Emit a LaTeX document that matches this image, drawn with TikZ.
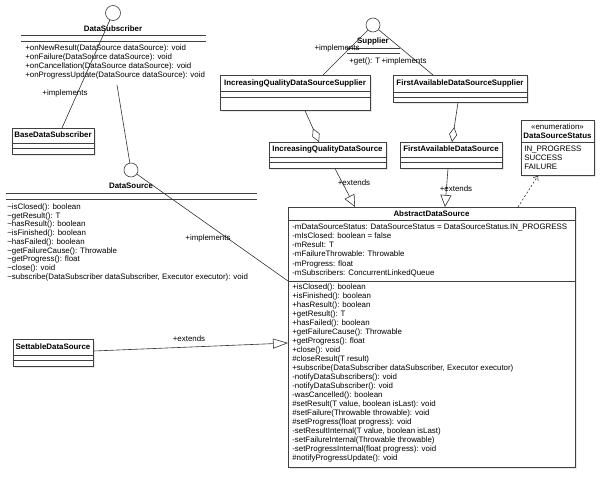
\documentclass[tikz,border=0pt]{standalone}
\usepackage{fontspec}
\setmainfont{Liberation Sans}
\usetikzlibrary{arrows.meta,shadows}
\begin{document}
\begin{tikzpicture}[x=1pt,y=-1pt,
  line width=0.6pt,
  every node/.style={font=\fontsize{7.9}{9}\selectfont},
  classbox/.style={draw=black!75, fill=white, anchor=north west, inner sep=0pt,
    drop shadow={shadow xshift=1.5pt, shadow yshift=-1.5pt, opacity=0.18}},
  title/.style={font=\fontsize{7.9}{9}\selectfont\bfseries, inner sep=0pt, text height=5.5pt, text depth=1.5pt},
  member/.style={anchor=west, inner sep=0pt, text height=5.5pt, text depth=1.5pt},
  lbl/.style={inner sep=0pt, text height=5.5pt, text depth=1.5pt},
  sep/.style={draw=black!75},
  iface/.style={circle, draw=black!75, fill=white, minimum size=15pt, inner sep=0pt},
  conn/.style={draw=black!80},
  aggr/.style={conn, -{Diamond[open, length=15pt, width=8pt]}},
  gen/.style={conn, -{Triangle[open, length=12pt, width=11pt]}},
  dep/.style={conn, dashed, dash pattern=on 2pt off 2pt, -{Straight Barb[length=4pt, width=6pt]}}
]
\useasboundingbox[fill=white] (0,0) rectangle (600,477);

% ---------- DataSubscriber (interface) ----------
\node[iface] (dsubc) at (113,13) {};
\node[title] (dsub) at (113,29) {DataSubscriber};
\draw[sep] (21,35) -- (206,35) (21,41) -- (206,41);
\foreach \t [count=\i] in {{+onNewResult(DataSource dataSource): void},
  {+onFailure(DataSource dataSource): void},
  {+onCancellation(DataSource dataSource): void},
  {+onProgressUpdate(DataSource dataSource): void}}
  \node[member] (dsubm\i) at (25,39+9*\i) {\t};
\coordinate (dsubb) at (117,85);

% ---------- BaseDataSubscriber ----------
\node[classbox, minimum width=82pt, minimum height=26pt] (bds) at (12,128) {};
\node[title] (bdst) at (53,135) {BaseDataSubscriber};
\draw[sep] (12,143) -- (94,143) (12,148) -- (94,148);

% ---------- Supplier (interface) ----------
\node[iface, minimum size=14pt] (supc) at (373,25) {};
\node[title] (sup) at (373,41) {Supplier};
\draw[sep] (347,48) -- (400,48) (347,53) -- (400,53);
\node[member] (supm1) at (349,61) {+get(): T};

% ---------- IncreasingQualityDataSourceSupplier ----------
\node[classbox, minimum width=150pt, minimum height=35pt] (iqdss) at (220,75) {};
\node[title] (iqdsst) at (295,83) {IncreasingQualityDataSourceSupplier};
\draw[sep] (220,91) -- (370,91) (220,97) -- (370,97);

% ---------- FirstAvailableDataSourceSupplier ----------
\node[classbox, minimum width=134pt, minimum height=27pt] (fadss) at (393,75) {};
\node[title] (fadsst) at (460,83) {FirstAvailableDataSourceSupplier};
\draw[sep] (393,92) -- (527,92) (393,97) -- (527,97);

% ---------- IncreasingQualityDataSource ----------
\node[classbox, minimum width=117pt, minimum height=26pt] (iqds) at (269,142) {};
\node[title] (iqdst) at (327.5,149) {IncreasingQualityDataSource};
\draw[sep] (269,157) -- (386,157) (269,162) -- (386,162);

% ---------- FirstAvailableDataSource ----------
\node[classbox, minimum width=102pt, minimum height=26pt] (fads) at (400,142) {};
\node[title] (fadst) at (451,149) {FirstAvailableDataSource};
\draw[sep] (400,157) -- (502,157) (400,162) -- (502,162);

% ---------- DataSourceStatus ----------
\node[classbox, minimum width=73pt, minimum height=55pt] (dss) at (521,120) {};
\node[lbl] (dsss) at (557.5,127) {«enumeration»};
\node[title] (dsst) at (557.5,136) {DataSourceStatus};
\draw[sep] (521,142.5) -- (594,142.5);
\foreach \t [count=\i] in {IN\_PROGRESS, SUCCESS, FAILURE}
  \node[member] (dssm\i) at (524,140+9*\i) {\t};

% ---------- DataSource (interface) ----------
\node[iface, minimum size=14pt] (dsc) at (131,170) {};
\node[title] (ds) at (131,186) {DataSource};
\draw[sep] (6,193) -- (257,193) (6,199) -- (257,199);
\foreach \t [count=\i] in {{\textasciitilde isClosed(): boolean},
  {\textasciitilde getResult(): T},
  {\textasciitilde hasResult(): boolean},
  {\textasciitilde isFinished(): boolean},
  {\textasciitilde hasFailed(): boolean},
  {\textasciitilde getFailureCause(): Throwable},
  {\textasciitilde getProgress(): float},
  {\textasciitilde close(): void},
  {\textasciitilde subscribe(DataSubscriber dataSubscriber, Executor executor): void}}
  \node[member] (dsm\i) at (7,198.8+8.7*\i) {\t};

% ---------- AbstractDataSource ----------
\node[classbox, minimum width=287pt, minimum height=260pt] (ads) at (288,207) {};
\node[title] (adst) at (431.5,214) {AbstractDataSource};
\draw[sep] (288,220.5) -- (575,220.5) (288,281) -- (575,281);
\foreach \t [count=\i] in {{-mDataSourceStatus: DataSourceStatus = DataSourceStatus.IN\_PROGRESS},
  {-mIsClosed: boolean = false},
  {-mResult: T},
  {-mFailureThrowable: Throwable},
  {-mProgress: float},
  {-mSubscribers: ConcurrentLinkedQueue}}
  \node[member] (adsa\i) at (292,218+9.2*\i) {\t};
\foreach \t [count=\i] in {{+isClosed(): boolean},
  {+isFinished(): boolean},
  {+hasResult(): boolean},
  {+getResult(): T},
  {+hasFailed(): boolean},
  {+getFailureCause(): Throwable},
  {+getProgress(): float},
  {+close(): void},
  {\#closeResult(T result)},
  {+subscribe(DataSubscriber dataSubscriber, Executor executor)},
  {-notifyDataSubscribers(): void},
  {-notifyDataSubscriber(): void},
  {-wasCancelled(): boolean},
  {\#setResult(T value, boolean isLast): void},
  {\#setFailure(Throwable throwable): void},
  {\#setProgress(float progress): void},
  {-setResultInternal(T value, boolean isLast)},
  {-setFailureInternal(Throwable throwable)},
  {-setProgressInternal(float progress): void},
  {\#notifyProgressUpdate(): void}}
  \node[member] (adsm\i) at (292,278+9*\i) {\t};

% ---------- SettableDataSource ----------
\node[classbox, minimum width=80pt, minimum height=27pt] (sds) at (13,339) {};
\node[title] (sdst) at (53,347) {SettableDataSource};
\draw[sep] (13,355) -- (93,355) (13,360) -- (93,360);

% ---------- connectors ----------
\draw[conn] (dsubc) -- (bds.north -| 62,0);
\node[lbl] (l1) at (65,93) {+implements};
\draw[conn] (dsubb) -- (dsc);
\draw[conn] (dsc) -- (ads.west |- 0,281);
\node[lbl] (l2) at (208,238) {+implements};
\draw[conn] (supc) -- (iqdss.north -| 323,0);
\draw[conn] (supc) -- (fadss.north -| 433,0);
\node[lbl] (l3) at (337,48) {+implements};
\node[lbl] (l4) at (404,61) {+implements};
\draw[aggr] (iqdss.south -| 305,0) -- (iqds.north -| 319,0);
\draw[aggr] (fadss.south -| 458,0) -- (fads.north -| 452,0);
\draw[gen] (iqds.south -| 335,0) -- (ads.north -| 355,0);
\node[lbl] (l5) at (354,183) {+extends};
\draw[gen] (fads.south -| 448,0) -- (ads.north -| 445,0);
\node[lbl] (l6) at (456,189) {+extends};
\draw[gen, -{Triangle[open, length=15pt, width=10pt]}] (sds.east |- 0,351) -- (ads.west |- 0,343);
\node[lbl] (l7) at (189,339) {+extends};
\draw[dep] (ads.north -| 518,0) -- (dss.south -| 538,0);
\end{tikzpicture}
\end{document}
